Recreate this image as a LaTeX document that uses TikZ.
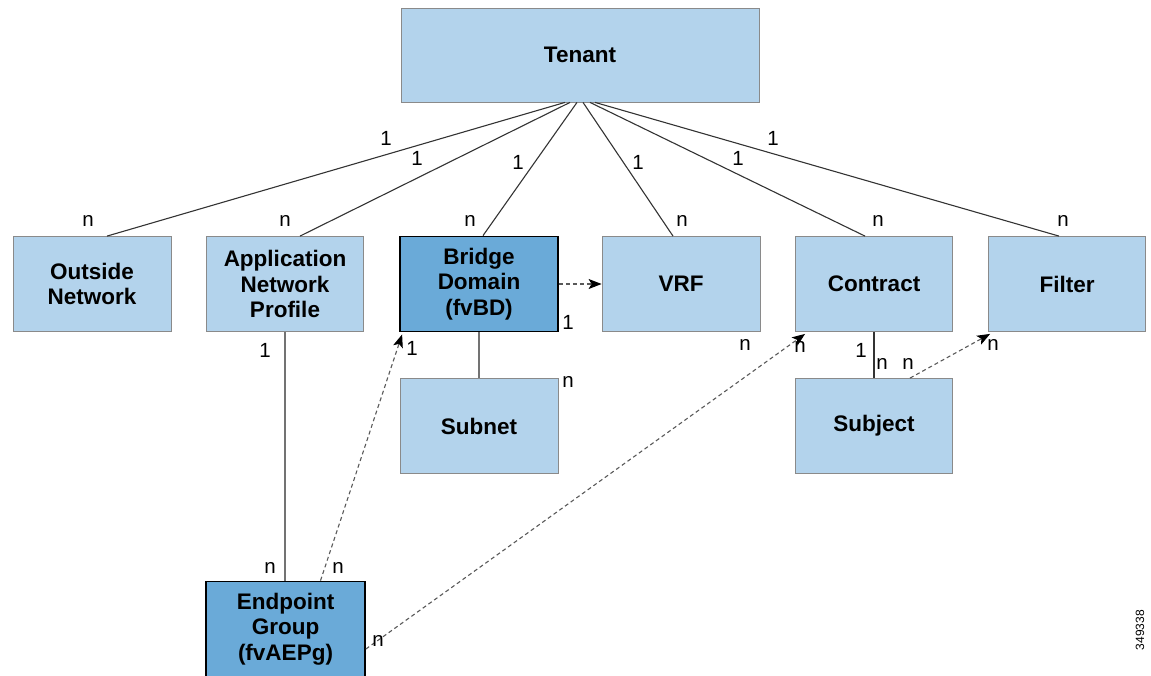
\documentclass[tikz,border=0pt]{standalone}
\usepackage{fontspec}
\setmainfont{Liberation Sans}
\usetikzlibrary{arrows.meta}
\definecolor{lightfill}{HTML}{B3D3EC}
\definecolor{darkfill}{HTML}{6AAAD8}
\definecolor{edge}{HTML}{8A8A8A}
\tikzstyle{b} = [rectangle, minimum width=158pt, minimum height=95pt, text centered, align=center, fill=lightfill, draw=edge, line width=0.8pt, font=\fontsize{22.5}{25.5}\selectfont\bfseries, inner sep=0pt]
\tikzstyle{bd} = [b, fill=darkfill, draw=black, line width=1.8pt]
\tikzstyle{m} = [font=\fontsize{20.5}{22}\selectfont, inner sep=0pt]
\tikzstyle{l} = [draw=black!80, line width=1.1pt]
\tikzstyle{d} = [draw=black!65, line width=1.1pt, dash pattern=on 4pt off 3pt, -{Stealth[length=13pt,width=10pt,black,inset=3pt]}]

\begin{document}
\begin{tikzpicture}[x=1pt,y=-1pt]
			\useasboundingbox (0,0) rectangle (1151,675);
			\node[b,minimum width=358pt,minimum height=94pt](tenant) at (580,55){Tenant};
			\node[b](outside) at (92,284){Outside\\Network};
			\node[b,minimum width=157pt](anp) at (285,284){Application\\Network\\Profile};
			\node[bd](bridge) at (479,284){Bridge\\Domain\\(fvBD)};
			\node[b](vrf) at (681,284){VRF};
			\node[b,minimum width=157pt](contract) at (874,284){Contract};
			\node[b,minimum width=157pt](filter) at (1067,284){Filter};
			\node[b](subnet) at (479,426){Subnet};
			\node[b,minimum width=157pt](subject) at (874,426){Subject};
			\node[bd,minimum width=159pt](epg) at (285.5,629){Endpoint\\Group\\(fvAEPg)};
			
			% tenant to children
			\draw[l] ([xshift=-15pt]tenant.south)--([xshift=15pt]outside.north);
			\draw[l] ([xshift=-10pt]tenant.south)--([xshift=15pt]anp.north);
			\draw[l] ([xshift=-3pt]tenant.south)--([xshift=4pt]bridge.north);
			\draw[l] ([xshift=3pt]tenant.south)--([xshift=-8pt]vrf.north);
			\draw[l] ([xshift=10pt]tenant.south)--([xshift=-9pt]contract.north);
			\draw[l] ([xshift=15pt]tenant.south)--([xshift=-8pt]filter.north);
			\node[m](t1) at (386,138){1};
			\node[m](t2) at (417,158){1};
			\node[m](t3) at (518,162){1};
			\node[m](t4) at (638,162){1};
			\node[m](t5) at (738,158){1};
			\node[m](t6) at (773,138){1};
			\node[m](n1) at (88,221){n};
			\node[m](n2) at (285,221){n};
			\node[m](n3) at (470,221){n};
			\node[m](n4) at (682,221){n};
			\node[m](n5) at (878,221){n};
			\node[m](n6) at (1063,221){n};
			
			% solid children
			\draw[l,draw=black!55] (anp.south)--(epg.north-|anp.south);
			\draw[l,draw=black!55] (bridge.south)--(subnet.north);
			\draw[l] (contract.south)--(subject.north);
			\node[m](a1) at (265,350){1};
			\node[m](a2) at (270,568){n};
			\node[m](s1) at (568,322){1};
			\node[m](s2) at (568,382){n};
			\node[m](c1) at (861,350){1};
			\node[m](c2) at (882,364){n};
			
			% dashed relations
			\draw[d] (bridge.east)--(vrf.west);
			\draw[d] ([xshift=35pt]epg.north)--([xshift=3pt,yshift=-2pt]bridge.south west);
			\draw[d] ([yshift=-20pt]epg.east)--([xshift=10pt,yshift=-2pt]contract.south west);
			\draw[d] ([xshift=36pt]subject.north)--([xshift=2pt,yshift=-2pt]filter.south west);
			\node[m](e1) at (338,568){n};
			\node[m](e2) at (412,348){1};
			\node[m](e3) at (378,641){n};
			\node[m](e4) at (745,345){n};
			\node[m](e5) at (800,347){n};
			\node[m](f1) at (908,364){n};
			\node[m](f2) at (993,345){n};
			
			\node[font=\fontsize{12}{14}\selectfont,rotate=90](id) at (1140,630){349338};
\end{tikzpicture}
\end{document}
